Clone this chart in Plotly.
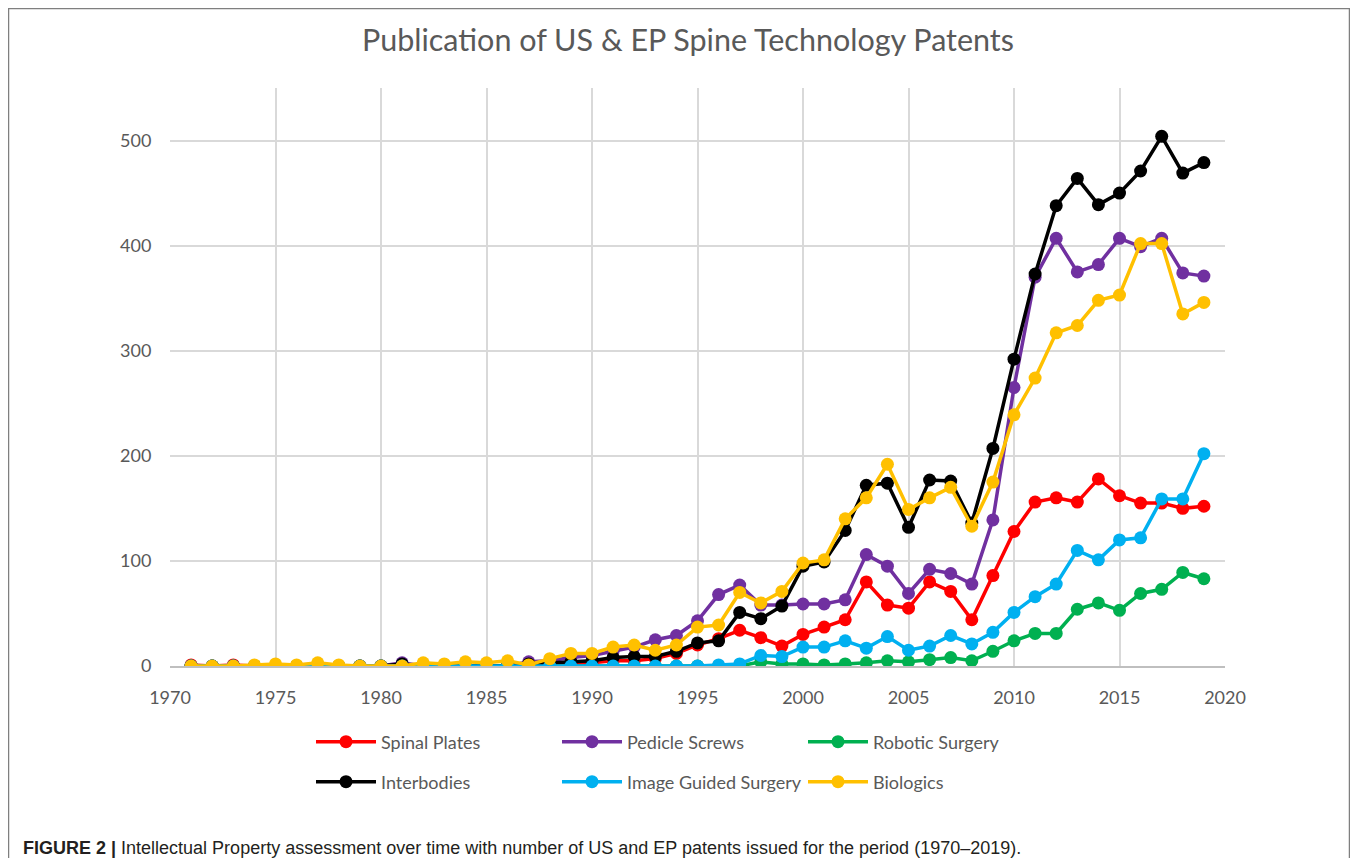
import plotly.graph_objects as go

years = list(range(1971, 2020))

spinal_plates = [1, 0, 1, 0, 0, 0, 0, 0, 0, 0,
                 1, 0, 0, 0, 0, 0, 1, 1, 2, 3,
                 5, 5, 7, 12, 20, 26, 34, 27, 19, 30,
                 37, 44, 80, 58, 55, 80, 71, 44, 86, 128,
                 156, 160, 156, 178, 162, 155, 155, 150, 152]
pedicle_screws = [0, 0, 0, 0, 0, 0, 0, 0, 0, 0,
                  3, 0, 0, 0, 0, 0, 4, 5, 8, 10,
                  14, 18, 25, 29, 43, 68, 77, 58, 58, 59,
                  59, 63, 106, 95, 69, 92, 88, 78, 139, 265,
                  370, 407, 375, 382, 407, 399, 407, 374, 371]
robotic_surgery = [0, 0, 0, 0, 0, 0, 0, 0, 0, 0,
                   0, 0, 0, 0, 0, 0, 0, 0, 0, 0,
                   0, 0, 0, 0, 0, 0, 0, 4, 2, 2,
                   1, 2, 3, 5, 4, 6, 8, 5, 14, 24,
                   31, 31, 54, 60, 53, 69, 73, 89, 83]
interbodies = [0, 0, 0, 0, 0, 0, 0, 0, 0, 0,
               2, 0, 0, 0, 0, 0, 2, 3, 4, 5,
               8, 9, 9, 14, 22, 24, 51, 45, 57, 95,
               99, 129, 172, 174, 132, 177, 176, 136, 207, 292,
               373, 438, 464, 439, 450, 471, 504, 469, 479]
image_guided = [0, 0, 0, 0, 0, 0, 0, 0, 0, 0,
                0, 0, 0, 0, 0, 0, 0, 0, 0, 0,
                0, 0, 0, 0, 0, 1, 2, 10, 9, 18,
                18, 24, 17, 28, 15, 19, 29, 21, 32, 51,
                66, 78, 110, 101, 120, 122, 159, 159, 202]
biologics = [0, 0, 0, 1, 2, 1, 3, 1, 0, 0,
             0, 3, 2, 4, 3, 5, 1, 7, 12, 12,
             18, 20, 15, 20, 37, 39, 70, 60, 71, 98,
             101, 140, 160, 192, 149, 160, 170, 133, 175, 239,
             274, 317, 324, 348, 353, 402, 402, 335, 346]

series = [
    ("Spinal Plates", spinal_plates, "#FF0000", "legend"),
    ("Pedicle Screws", pedicle_screws, "#7030A0", "legend"),
    ("Robotic Surgery", robotic_surgery, "#00B050", "legend"),
    ("Interbodies", interbodies, "#000000", "legend2"),
    ("Image Guided Surgery", image_guided, "#00B0F0", "legend2"),
    ("Biologics", biologics, "#FFC000", "legend2"),
]

FONT = "Lato, 'Open Sans', sans-serif"
GREY = "#595959"

fig = go.Figure()
for name, vals, color, lg in series:
    fig.add_trace(go.Scatter(
        x=years, y=vals, name=name, mode="lines+markers",
        line=dict(color=color, width=3.5),
        marker=dict(color=color, size=13),
        legend=lg,
    ))

W, H = 1342, 850
L, R, T, B = 162, 125, 80, 192
pw, ph = W - L - R, H - T - B


def px_x(fx):
    return (fx - L) / pw


def px_y(fy):
    return (H - B - fy) / ph


legend_common = dict(
    orientation="h", xanchor="left", yanchor="middle",
    font=dict(family=FONT, size=18, color=GREY),
    itemwidth=60, entrywidth=171, entrywidthmode="pixels",
    bgcolor="rgba(0,0,0,0)", borderwidth=0, traceorder="normal",
)

fig.update_layout(
    width=W, height=H,
    margin=dict(l=L, r=R, t=T, b=B),
    paper_bgcolor="white", plot_bgcolor="white",
    font=dict(family=FONT, color=GREY),
    title=dict(text="Publication of US &amp; EP Spine Technology Patents",
               x=680 / W, xref="container", xanchor="center",
               y=1 - 32 / H, yref="container", yanchor="middle",
               font=dict(family=FONT, size=30.5, color=GREY)),
    legend=dict(x=px_x(303), y=px_y(734), **legend_common),
    legend2=dict(x=px_x(303), y=px_y(774), **legend_common),
    showlegend=True,
    xaxis=dict(range=[1970, 2020], dtick=5, tick0=1970,
               showgrid=True, gridcolor="#D9D9D9", gridwidth=2,
               showline=True, linecolor="#BFBFBF", linewidth=2,
               zeroline=False, ticks="outside", ticklen=14,
               tickcolor="rgba(0,0,0,0)",
               tickfont=dict(family=FONT, size=18, color=GREY)),
    yaxis=dict(range=[0, 550], dtick=100, tick0=0,
               showgrid=True, gridcolor="#D9D9D9", gridwidth=2,
               showline=False, zeroline=False, ticks="outside", ticklen=14,
               tickcolor="rgba(0,0,0,0)",
               tickfont=dict(family=FONT, size=18, color=GREY)),
    shapes=[dict(type="rect", xref="paper", yref="paper",
                 x0=px_x(0.5), x1=px_x(W - 0.5), y0=px_y(H + 20), y1=px_y(0.5),
                 line=dict(color="#7F7F7F", width=1.5), fillcolor="rgba(0,0,0,0)",
                 layer="above")],
    annotations=[dict(
        text="<b>FIGURE 2 |</b> Intellectual Property assessment over time with number of US and EP patents issued for the period (1970–2019).",
        xref="paper", yref="paper", x=px_x(13), y=px_y(840),
        xanchor="left", yanchor="middle", showarrow=False,
        font=dict(family="'Liberation Sans', Arial, sans-serif", size=18, color="#231F20"))],
)

fig.write_html("out.html")
